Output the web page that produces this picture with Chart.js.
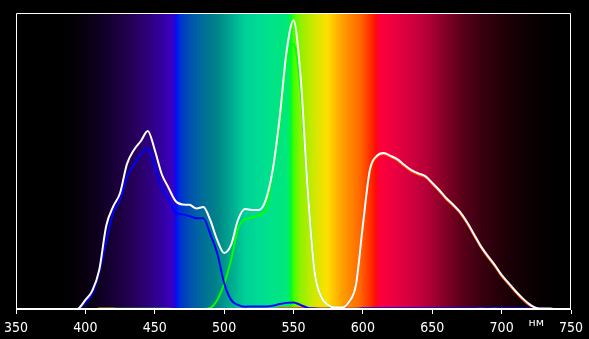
<!DOCTYPE html>
<html>
<head>
<meta charset="utf-8">
<script src="https://cdn.jsdelivr.net/npm/chart.js@4/dist/chart.umd.min.js"></script>
<style>
  html, body { margin: 0; padding: 0; background: #000; }
  canvas { display: block; }
</style>
</head>
<body>
<canvas id="c" width="589" height="339"></canvas>
<script>
// Wavelengths, nm
const wavelengths = [380,385,390,395,400,405,410,415,420,425,430,435,440,445,450,455,460,465,470,475,480,485,490,495,500,505,510,515,520,525,530,535,540,545,550,555,560,565,570,575,580,585,590,595,600,605,610,615,620,625,630,635,640,645,650,655,660,665,670,675,680,685,690,695,700,705,710,715,720,725,730,735,740];
// Total (white)
const whiteSeries = [0,0,0,0.5,3.4,6.5,13.5,28.3,34.8,39.4,49.2,53.9,56.9,60.3,53.9,45.8,41.1,36.7,35.5,35.4,34.2,34.7,30.3,23.6,19.2,21.9,30.3,34.0,33.7,33.7,37.0,47.1,64.6,86.9,97.6,79.1,42.1,13.5,4.4,1.7,0.8,0.8,2.7,8.4,28.6,47.1,51.9,52.9,51.9,50.7,48.8,47.1,46.0,45.1,42.8,40.4,37.7,35.5,33.0,29.6,25.6,21.5,18.2,15.2,11.8,9.1,6.4,4.0,2.0,0.7,0.5,0.5,0];
// Blue channel
const blueSeries = [0,0,0,0.3,2.5,5.6,12.8,23.2,32.7,37.2,44.8,49.0,52.5,54.4,48.5,41.1,37.4,32.8,32.2,31.6,30.9,30.9,25.6,19.2,9.1,3.4,1.7,1.1,1.2,1.2,1.2,1.4,2.0,2.4,2.5,1.7,0.8,0.5,0.4,0.4,0.4,0.4,0.4,0.4,0.6,0.6,0.6,0.6,0.6,0.6,0.6,0.6,0.6,0.6,0.6,0.6,0.6,0.6,0.6,0.6,0.6,0.6,0.6,0.6,0.6,0.6,0.6,0.6,0.6,0.6,0.4,0.2,0];
// Green channel
const greenSeries = [0,0,0,0,0,0,0.4,0.4,0.4,0.4,0.4,0.4,0.4,0.4,0.4,0.4,0.4,0.3,0.3,0.3,0.3,0.3,0.7,3.4,8.8,16.8,27.3,30.6,31.1,32.0,33.7,46.5,62.3,83.5,89.6,74.7,42.1,13.5,4.4,1.7,0.8,0.5,0.2,0.2,0.2,0.2,0.2,0.2,0.2,0.2,0.2,0.2,0.2,0.2,0.2,0.2,0.2,0.2,0.2,0.2,0.2,0.6,0.2,0.6,0.2,0.2,0.2,0.2,0.2,0.2,0,0,0];
// Red channel
const redSeries = [0,0,0,0,0,0,0.5,0.5,0.5,0.2,0.2,0.2,0.2,0.2,0.2,0.2,0.2,0.2,0.2,0.2,0.2,0.2,0.2,0.2,0.2,0.2,0.2,0.2,0.2,0.2,0.2,0.2,0.7,0.7,0.7,0.7,0.7,0.7,0.5,0.5,0.5,0.5,2.2,8.0,28.2,46.7,51.5,52.5,51.5,50.3,48.4,46.7,45.6,44.7,42.4,40.0,37.3,35.1,32.6,29.2,25.2,21.1,17.8,14.8,11.4,8.7,6.0,3.6,1.6,0.4,0,0,0];
// Axis ticks
const xTicks = [350,400,450,500,550,600,650,700,750];
const unitLabel = 'нм';

const pts = arr => wavelengths.map((w, i) => ({x: w, y: arr[i]}));

// spectrum background stops (nm, colour)
const spectrumStops = [
  [350,'#000000'],[383,'#000000'],[395,'#050008'],[410,'#0e0020'],[425,'#1c0040'],
  [440,'#2a0068'],[455,'#3300a0'],[463,'#3a00c0'],[464.5,'#2000e0'],[465.5,'#0010ff'],
  [468,'#0030d0'],[475,'#0050b0'],[485,'#006e98'],[495,'#008488'],[505,'#00a890'],
  [515,'#00d098'],[530,'#00e090'],[546,'#00e878'],[548.5,'#00ff20'],[550,'#40ff00'],
  [555,'#90f000'],[565,'#d0e800'],[574,'#ffe000'],[585,'#ffa000'],[598,'#ff6800'],
  [607,'#ff2000'],[609.5,'#ff0810'],[612,'#ff0038'],[620,'#f00040'],[632,'#d8003e'],
  [645,'#b80038'],[658,'#880028'],[672,'#580018'],[686,'#380010'],[700,'#220008'],
  [714,'#120004'],[728,'#060000'],[740,'#000000'],[750,'#000000']
];

const bgPlugin = {
  id: 'bg',
  beforeDraw(chart) {
    const {ctx, chartArea: a, scales: {x}} = chart;
    ctx.save();
    ctx.fillStyle = '#000';
    ctx.fillRect(0, 0, chart.width, chart.height);
    const x0 = x.getPixelForValue(350), x1 = x.getPixelForValue(750);
    const g = ctx.createLinearGradient(x0, 0, x1, 0);
    spectrumStops.forEach(([w, c]) => g.addColorStop((w - 350) / 400, c));
    ctx.fillStyle = g;
    ctx.fillRect(a.left, a.top, a.right - a.left, a.bottom - a.top);
    ctx.restore();
  },
  afterDraw(chart) {
    const {ctx, chartArea: a, scales: {x}} = chart;
    ctx.save();
    ctx.strokeStyle = '#fff';
    ctx.lineWidth = 1;
    ctx.beginPath();
    ctx.moveTo(a.left + 0.5, a.bottom);
    ctx.lineTo(a.left + 0.5, a.top + 0.5);
    ctx.lineTo(a.right - 0.5, a.top + 0.5);
    ctx.lineTo(a.right - 0.5, a.bottom);
    ctx.stroke();
    ctx.lineWidth = 2;
    ctx.beginPath();
    ctx.moveTo(a.left, a.bottom - 1);
    ctx.lineTo(a.right, a.bottom - 1);
    ctx.stroke();
    ctx.fillStyle = '#fff';
    ctx.font = '11px "DejaVu Sans", sans-serif';
    ctx.textAlign = 'center';
    ctx.textBaseline = 'middle';
    ctx.fillText(unitLabel, x.getPixelForValue(725), a.bottom + 13);
    ctx.restore();
  }
};

const ds = (label, arr, color) => ({
  label, data: pts(arr), borderColor: color, borderWidth: 2, pointRadius: 0,
  fill: false, cubicInterpolationMode: 'monotone'
});

new Chart(document.getElementById('c'), {
  type: 'line',
  data: {
    datasets: [
      ds('Белый', whiteSeries, '#ffffff'),
      ds('Синий', blueSeries, '#0000ff'),
      ds('Зелёный', greenSeries, '#00ff00'),
      ds('Красный', redSeries, '#ff5000')
    ]
  },
  plugins: [bgPlugin],
  options: {
    responsive: false,
    animation: false,
    devicePixelRatio: 1,
    layout: { padding: { left: 16, right: 18, top: 13, bottom: 0 } },
    plugins: { legend: { display: false }, tooltip: { enabled: false } },
    scales: {
      x: {
        type: 'linear', min: 350, max: 750,
        afterBuildTicks: s => { s.ticks = xTicks.map(v => ({value: v})); },
        afterFit: s => { s.height = 29; s.paddingLeft = 0; s.paddingRight = 0; },
        grid: { drawOnChartArea: false, color: '#fff', tickLength: 4, lineWidth: 1 },
        border: { display: false },
        ticks: {
          color: '#fff', padding: 6, maxRotation: 0,
          font: { family: '"Liberation Sans Narrow", "DejaVu Sans Condensed", sans-serif', size: 14 }
        }
      },
      y: { display: false, min: 0, max: 100 }
    }
  }
});
</script>
</body>
</html>
